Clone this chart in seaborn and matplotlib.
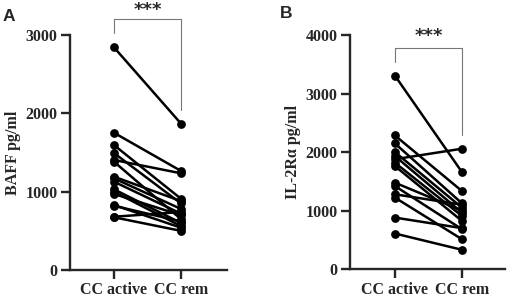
import numpy as np
import pandas as pd
import matplotlib
matplotlib.use("Agg")
import matplotlib.pyplot as plt
import seaborn as sns

# paired values
conditions = ["CC active", "CC rem"]
baff_active = [2844, 1753, 1596, 1494, 1405, 1383, 1192, 1170, 1128, 1031, 1000, 971, 830, 820, 673, 680]
baff_rem = [1870, 1265, 910, 850, 1235, 650, 880, 780, 720, 600, 560, 700, 540, 620, 500, 740]
il2ra_active = [3307, 2284, 2148, 2000, 1932, 1878, 1818, 1761, 1477, 1420, 1278, 1222, 880, 608]
il2ra_rem = [1659, 1335, 1125, 1051, 966, 2057, 909, 824, 1000, 682, 1100, 511, 700, 330]


def long_df(active, rem):
    n = len(active)
    return pd.DataFrame({
        "subject": list(range(n)) * 2,
        "cond": [conditions[0]] * n + [conditions[1]] * n,
        "val": list(active) + list(rem),
    })


sns.set_style("ticks")
plt.rcParams["font.family"] = ["Liberation Serif", "DejaVu Serif"]
plt.rcParams["font.weight"] = "bold"

fig = plt.figure(figsize=(5.1, 3.02), dpi=100)
ax_a = fig.add_axes([0.137, 0.106, 0.308, 0.778])
ax_b = fig.add_axes([0.686, 0.109, 0.304, 0.775])

panels = [
    (ax_a, long_df(baff_active, baff_rem), "BAFF pg/ml", 3000, [0, 1000, 2000, 3000],
     (3027, 3202, 2043), 3320, (-0.657, 1.687)),
    (ax_b, long_df(il2ra_active, il2ra_rem), "IL-2R\u03b1 pg/ml", 4000, [0, 1000, 2000, 3000, 4000],
     (3538, 3778, 2290), 3990, (-0.672, 1.642)),
]

for ax, df, ylabel, ymax, yticks, br, star_y, xl in panels:
    sns.lineplot(data=df, x="cond", y="val", units="subject", estimator=None,
                 color="black", marker="o", markersize=6.3, markeredgewidth=0,
                 linewidth=1.8, ax=ax, clip_on=False)
    ax.set_ylim(0, ymax)
    ax.set_yticks(yticks)
    ax.set_xlim(*xl)
    ax.set_xlabel("")
    ax.set_ylabel(ylabel, fontsize=11.5, fontweight="bold", labelpad=3)
    for s in ["top", "right"]:
        ax.spines[s].set_visible(False)
    for s in ["left", "bottom"]:
        ax.spines[s].set_linewidth(1.7)
    ax.tick_params(width=1.7, length=6.5, labelsize=11.5, pad=2.5)
    for lab in ax.get_xticklabels() + ax.get_yticklabels():
        lab.set_fontweight("bold")
    # significance bracket
    ax.plot([0, 0, 1, 1], [br[0], br[1], br[1], br[2]], color="#777777",
            linewidth=0.8, clip_on=False)
    ax.text(0.5, star_y, "***", ha="center", va="center", fontsize=13,
            fontweight="bold", family="DejaVu Sans")

fig.text(0.006, 0.97, "A", fontsize=12.5, fontweight="bold", family="Liberation Sans", va="top")
fig.text(0.549, 0.98, "B", fontsize=12.5, fontweight="bold", family="Liberation Sans", va="top")

fig.savefig("out.png", dpi=100)
